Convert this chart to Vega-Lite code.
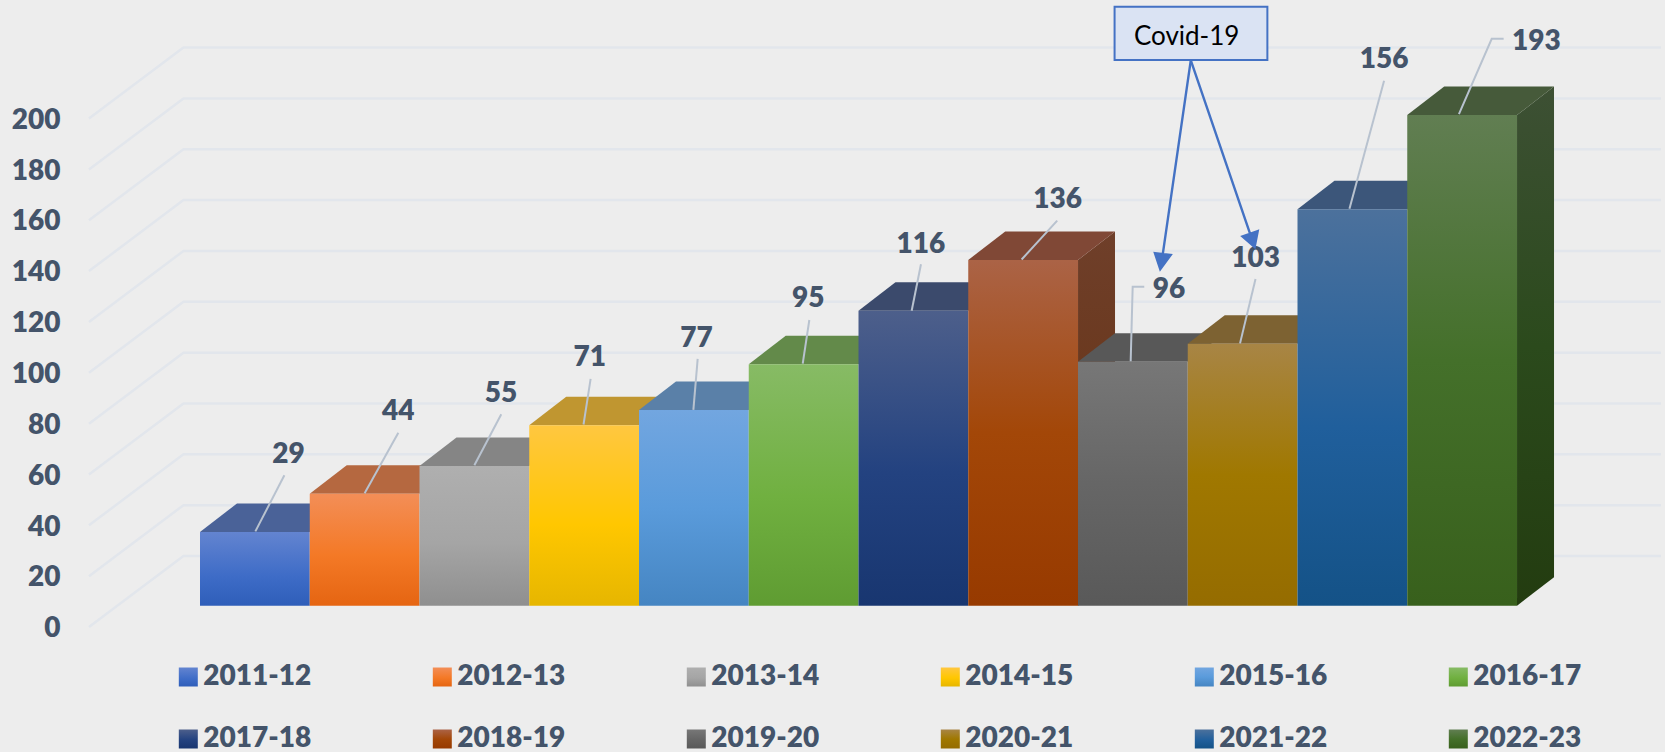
{
"$schema":"https://vega.github.io/schema/vega-lite/v6.json",
"width":1665,"height":752,"padding":0,"autosize":{"type":"none"},
"background":"#EDEDED",
"config":{"view":{"stroke":null},"font":"Lato"},
"datasets":{
"bars":[
{"year":"2011-12","value":29},{"year":"2012-13","value":44},{"year":"2013-14","value":55},{"year":"2014-15","value":71},{"year":"2015-16","value":77},{"year":"2016-17","value":95},{"year":"2017-18","value":116},{"year":"2018-19","value":136},{"year":"2019-20","value":96},{"year":"2020-21","value":103},{"year":"2021-22","value":156},{"year":"2022-23","value":193}],
"ticks":[{"value":0},{"value":20},{"value":40},{"value":60},{"value":80},{"value":100},{"value":120},{"value":140},{"value":160},{"value":180},{"value":200}]
},
"data":{"name":"bars"},
"encoding":{
"x":{"field":"year","type":"nominal","title":null,"axis":null,"scale":{"type":"band","domain":["2011-12","2012-13","2013-14","2014-15","2015-16","2016-17","2017-18","2018-19","2019-20","2020-21","2021-22","2022-23"],"paddingInner":0,"paddingOuter":0,"range":[200,1517]}},
"y":{"field":"value","type":"quantitative","title":null,"scale":{"domain":[-57.55,238.27],"nice":false,"zero":false},"axis":{"values":[0,20,40,60,80,100,120,140,160,180,200],"domain":false,"ticks":false,"grid":false,"orient":"left","offset":-60,"labelPadding":0,"labelOffset":23,"labelFont":"Lato","labelFontSize":28,"labelFontWeight":800,"labelColor":"#44546A","format":"d"}}
},
"layer":[
{"data":{"name":"ticks"},
 "mark":{"type":"point","shape":"M-165.9,21.3L-71.4,-49.7L1406.1,-49.7","size":4,"filled":false,"stroke":"#E2E6EC","strokeWidth":2.5,"opacity":1},
 "encoding":{"x":{"datum":"2011-12","type":"nominal"}}},
{"transform":[{"filter":{"field":"year","oneOf":["2018-19","2022-23"]}}],
 "mark":{"type":"point","size":4,"filled":true,"opacity":1,"strokeWidth":0},
 "encoding":{
  "shape":{"field":"year","type":"nominal","legend":null,"scale":{"domain":["2018-19","2022-23"],"range":["M54.9,0L91.9,-28.5L91.9,317.2L54.9,345.7Z","M54.9,0L91.9,-28.5L91.9,462.1L54.9,490.6Z"]}},
  "fill":{"field":"year","type":"nominal","legend":null,"scale":{"domain":["2018-19","2022-23"],"range":[
   {"expr":"{gradient:'linear',x1:0,y1:0,x2:0,y2:1,stops:[{offset:0,color:'#6F3F2A'},{offset:1,color:'#642F0C'}]}"},
   {"expr":"{gradient:'linear',x1:0,y1:0,x2:0,y2:1,stops:[{offset:0,color:'#3D5034'},{offset:0.5,color:'#2B4A1C'},{offset:1,color:'#233C10'}]}"}]}}}},
{"mark":{"type":"point","shape":"M-54.9,0L54.9,0L91.9,-28.5L-17.9,-28.5Z","size":4,"filled":true,"opacity":1,"strokeWidth":0},
 "encoding":{"fill":{"field":"year","type":"nominal","legend":null,"scale":{"domain":["2011-12","2012-13","2013-14","2014-15","2015-16","2016-17","2017-18","2018-19","2019-20","2020-21","2021-22","2022-23"],"range":["#4A6298","#B56840","#858585","#C09630","#5A80A8","#638A4A","#3B4A6C","#804836","#585858","#7D6232","#3C567A","#465A3A"]}}}},
{"mark":{"type":"bar","opacity":1},
 "encoding":{"color":{"field":"year","type":"nominal","title":null,
  "scale":{"domain":["2011-12","2012-13","2013-14","2014-15","2015-16","2016-17","2017-18","2018-19","2019-20","2020-21","2021-22","2022-23"],"range":[
   {"expr":"{gradient:'linear',x1:0,y1:0,x2:0,y2:1,stops:[{offset:0,color:'#6384D0'},{offset:0.6,color:'#3E6CC7'},{offset:1,color:'#2F5EB9'}]}"},
   {"expr":"{gradient:'linear',x1:0,y1:0,x2:0,y2:1,stops:[{offset:0,color:'#F38E57'},{offset:0.55,color:'#F47926'},{offset:1,color:'#E56512'}]}"},
   {"expr":"{gradient:'linear',x1:0,y1:0,x2:0,y2:1,stops:[{offset:0,color:'#AFAFAF'},{offset:0.55,color:'#A5A5A5'},{offset:1,color:'#8F8F8F'}]}"},
   {"expr":"{gradient:'linear',x1:0,y1:0,x2:0,y2:1,stops:[{offset:0,color:'#FFC740'},{offset:0.55,color:'#FFC700'},{offset:1,color:'#E6B600'}]}"},
   {"expr":"{gradient:'linear',x1:0,y1:0,x2:0,y2:1,stops:[{offset:0,color:'#72A6E0'},{offset:0.5,color:'#5A9BDB'},{offset:1,color:'#4585C2'}]}"},
   {"expr":"{gradient:'linear',x1:0,y1:0,x2:0,y2:1,stops:[{offset:0,color:'#87BB65'},{offset:0.55,color:'#70B040'},{offset:1,color:'#5F9C32'}]}"},
   {"expr":"{gradient:'linear',x1:0,y1:0,x2:0,y2:1,stops:[{offset:0,color:'#4D5F8B'},{offset:0.55,color:'#234280'},{offset:1,color:'#183670'}]}"},
   {"expr":"{gradient:'linear',x1:0,y1:0,x2:0,y2:1,stops:[{offset:0,color:'#AB6346'},{offset:0.5,color:'#A34708'},{offset:1,color:'#973A00'}]}"},
   {"expr":"{gradient:'linear',x1:0,y1:0,x2:0,y2:1,stops:[{offset:0,color:'#777777'},{offset:0.5,color:'#666666'},{offset:1,color:'#595959'}]}"},
   {"expr":"{gradient:'linear',x1:0,y1:0,x2:0,y2:1,stops:[{offset:0,color:'#A88545'},{offset:0.5,color:'#A07800'},{offset:1,color:'#956C00'}]}"},
   {"expr":"{gradient:'linear',x1:0,y1:0,x2:0,y2:1,stops:[{offset:0,color:'#4C719C'},{offset:0.55,color:'#205F9C'},{offset:1,color:'#145287'}]}"},
   {"expr":"{gradient:'linear',x1:0,y1:0,x2:0,y2:1,stops:[{offset:0,color:'#617E52'},{offset:0.5,color:'#44702A'},{offset:1,color:'#38601C'}]}"}
  ]},
  "legend":{"orient":"none","direction":"horizontal","legendX":174.3,"legendY":663,"columns":6,"title":null,"symbolType":"square","symbolSize":361,"symbolStrokeWidth":0,"labelFont":"Lato","labelFontSize":28,"labelFontWeight":800,"labelColor":"#44546A","labelOffset":1,"labelLimit":300,"columnPadding":117,"rowPadding":34,"gridAlign":"all","padding":0}}}},
{"mark":{"type":"point","size":4,"filled":false,"stroke":"#B8C2CF","strokeWidth":2,"opacity":1},
 "encoding":{"shape":{"field":"year","type":"nominal","legend":null,"scale":{"domain":["2011-12","2012-13","2013-14","2014-15","2015-16","2016-17","2017-18","2018-19","2019-20","2020-21","2021-22","2022-23"],"range":[
  "M0.5,-0.6L29.5,-56.7","M0,-0.6L33.7,-61.2","M0,-0.6L26.9,-51.6","M-0.6,-0.7L6.5,-46.3","M-0.5,-0.1L3.8,-51.1","M-0.9,-0.5L5.7,-44.2","M-1.7,-0.1L7.6,-46.5","M-1.5,-0.5L34.1,-39.4","M-2.2,-0.4L-0.2,-75L11.4,-75","M-2.6,-0.5L12.9,-64.8","M-2.9,-0.5L31.7,-128.5","M-3.2,-1L29.6,-76.3L41.5,-76.3"]}}}},
{"transform":[{"filter":"datum.year==='2011-12'"}],"mark":{"type":"text","dy":2,"font":"Lato","fontSize":28,"fontWeight":800,"color":"#44546A","xOffset":33.5,"yOffset":-79.2},"encoding":{"text":{"field":"value"}}},
{"transform":[{"filter":"datum.year==='2012-13'"}],"mark":{"type":"text","dy":2,"font":"Lato","fontSize":28,"fontWeight":800,"color":"#44546A","xOffset":33.7,"yOffset":-83.9},"encoding":{"text":{"field":"value"}}},
{"transform":[{"filter":"datum.year==='2013-14'"}],"mark":{"type":"text","dy":2,"font":"Lato","fontSize":28,"fontWeight":800,"color":"#44546A","xOffset":26.5,"yOffset":-73.6},"encoding":{"text":{"field":"value"}}},
{"transform":[{"filter":"datum.year==='2014-15'"}],"mark":{"type":"text","dy":2,"font":"Lato","fontSize":28,"fontWeight":800,"color":"#44546A","xOffset":5.6,"yOffset":-68.8},"encoding":{"text":{"field":"value"}}},
{"transform":[{"filter":"datum.year==='2015-16'"}],"mark":{"type":"text","dy":2,"font":"Lato","fontSize":28,"fontWeight":800,"color":"#44546A","xOffset":2.7,"yOffset":-73.4},"encoding":{"text":{"field":"value"}}},
{"transform":[{"filter":"datum.year==='2016-17'"}],"mark":{"type":"text","dy":2,"font":"Lato","fontSize":28,"fontWeight":800,"color":"#44546A","xOffset":4.5,"yOffset":-66.9},"encoding":{"text":{"field":"value"}}},
{"transform":[{"filter":"datum.year==='2017-18'"}],"mark":{"type":"text","dy":2,"font":"Lato","fontSize":28,"fontWeight":800,"color":"#44546A","xOffset":7.6,"yOffset":-68.1},"encoding":{"text":{"field":"value"}}},
{"transform":[{"filter":"datum.year==='2018-19'"}],"mark":{"type":"text","dy":2,"font":"Lato","fontSize":28,"fontWeight":800,"color":"#44546A","xOffset":34.5,"yOffset":-62},"encoding":{"text":{"field":"value"}}},
{"transform":[{"filter":"datum.year==='2019-20'"}],"mark":{"type":"text","dy":2,"font":"Lato","fontSize":28,"fontWeight":800,"color":"#44546A","xOffset":36.1,"yOffset":-73.4},"encoding":{"text":{"field":"value"}}},
{"transform":[{"filter":"datum.year==='2020-21'"}],"mark":{"type":"text","dy":2,"font":"Lato","fontSize":28,"fontWeight":800,"color":"#44546A","xOffset":12.9,"yOffset":-87.3},"encoding":{"text":{"field":"value"}}},
{"transform":[{"filter":"datum.year==='2021-22'"}],"mark":{"type":"text","dy":1,"font":"Lato","fontSize":28,"fontWeight":800,"color":"#44546A","xOffset":31.7,"yOffset":-150.6},"encoding":{"text":{"field":"value"}}},
{"transform":[{"filter":"datum.year==='2022-23'"}],"mark":{"type":"text","dy":2,"font":"Lato","fontSize":28,"fontWeight":800,"color":"#44546A","xOffset":74.3,"yOffset":-75.3},"encoding":{"text":{"field":"value"}}},
{"transform":[{"filter":"datum.year==='2019-20'"}],
 "mark":{"type":"point","shape":"M-18.3,-355L134.5,-355L134.5,-301.7L-18.3,-301.7Z","size":4,"filled":true,"fill":"#DAE3F3","stroke":"#4472C4","strokeWidth":2,"opacity":1}},
{"transform":[{"filter":"datum.year==='2019-20'"}],
 "mark":{"type":"text","text":"Covid-19","font":"Lato","fontSize":26,"dy":2,"color":"#000000","xOffset":53.8,"yOffset":-326.7}},
{"transform":[{"filter":{"field":"year","oneOf":["2019-20","2020-21"]}}],
 "mark":{"type":"point","size":4,"filled":true,"fill":"#4472C4","stroke":"#4472C4","strokeWidth":2.4,"opacity":1},
 "encoding":{"shape":{"field":"year","type":"nominal","legend":null,"scale":{"domain":["2019-20","2020-21"],"range":["M57.9,-301.3L29.9,-107.5M22.1,-108.4L37.8,-106.7L27.4,-92.4Z","M-51.8,-283.5L7.5,-110.1M15.1,-112.7L-0.1,-107.5L12,-96.9Z"]}}}}
],
"resolve":{"scale":{"fill":"independent","shape":"independent"}}
}
